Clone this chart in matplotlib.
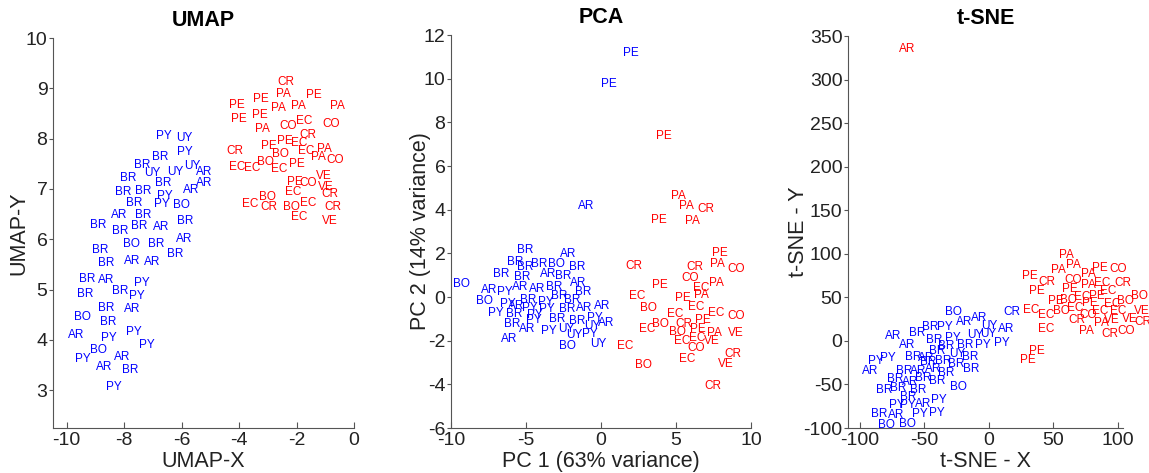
import matplotlib
matplotlib.use("Agg")
import matplotlib.pyplot as plt

plt.rcParams['font.family'] = ['Liberation Sans', 'DejaVu Sans']
plt.rcParams['axes.unicode_minus'] = False

# ---------------- UMAP ----------------
umap_blue_lab = ['PY', 'UY', 'PY', 'BR', 'BR', 'UY', 'UY', 'UY', 'AR', 'BR', 'BR', 'AR', 'AR',
                 'BR', 'BR', 'PY', 'PY', 'BO', 'BR', 'AR', 'BR', 'BR', 'BR', 'BR', 'AR', 'BR',
                 'BO', 'BR', 'AR', 'BR', 'BR', 'BR', 'AR', 'AR', 'BR', 'AR', 'PY', 'BR', 'BR',
                 'PY', 'BR', 'AR', 'BO', 'BR', 'AR', 'PY', 'PY', 'PY', 'BO', 'PY', 'AR', 'AR',
                 'BR', 'PY']
umap_blue_x = [-6.61, -5.90, -5.87, -6.73, -7.37, -7.03, -6.21, -5.63, -5.20, -7.84, -6.64, -5.20, -5.65,
               -8.04, -7.34, -6.57, -6.67, -6.00, -7.64, -8.18, -7.33, -8.89, -8.12, -7.47, -6.71, -5.86,
               -7.73, -6.89, -5.90, -8.82, -6.23, -8.63, -7.70, -7.02, -9.27, -8.61, -7.39, -9.36, -8.12,
               -7.54, -8.61, -7.70, -9.44, -8.56, -9.68, -8.53, -7.64, -7.20, -8.90, -9.42, -8.07, -8.68,
               -7.80, -8.36]
umap_blue_y = [8.06, 8.02, 7.74, 7.64, 7.47, 7.31, 7.34, 7.46, 7.34, 7.21, 7.11, 7.11, 6.97,
               6.93, 6.95, 6.86, 6.70, 6.69, 6.72, 6.48, 6.48, 6.29, 6.17, 6.26, 6.24, 6.36,
               5.91, 5.91, 6.00, 5.79, 5.70, 5.53, 5.57, 5.54, 5.22, 5.19, 5.14, 4.92, 4.98,
               4.87, 4.63, 4.62, 4.46, 4.35, 4.09, 4.03, 4.15, 3.89, 3.80, 3.62, 3.66, 3.46,
               3.41, 3.07]

umap_red_lab = ['CR', 'PA', 'PE', 'PE', 'PE', 'PA', 'PA', 'PA', 'PE', 'PE', 'CO', 'EC', 'CO', 'PA',
                'CR', 'CR', 'PE', 'PE', 'EC', 'BO', 'EC', 'PA', 'PA', 'CO', 'EC', 'EC', 'BO', 'EC',
                'PE', 'VE', 'PE', 'CO', 'VE', 'EC', 'CR', 'BO', 'EC', 'CR', 'BO', 'EC', 'CR', 'EC', 'VE']
umap_red_x = [-2.37, -2.46, -1.39, -4.08, -3.25, -2.62, -1.95, -0.59, -4.01, -3.27, -2.30, -1.74, -0.81, -3.18,
              -1.59, -4.16, -2.97, -2.42, -1.90, -2.55, -1.65, -1.04, -1.24, -0.67, -4.08, -3.55, -3.07, -2.60,
              -1.97, -1.04, -2.06, -1.59, -0.97, -2.13, -0.83, -3.02, -3.60, -2.97, -2.18, -1.59, -0.72, -1.90, -0.84]
umap_red_y = [9.13, 8.89, 8.87, 8.67, 8.79, 8.61, 8.65, 8.65, 8.39, 8.47, 8.25, 8.35, 8.30, 8.19,
              8.08, 7.76, 7.86, 7.95, 7.91, 7.70, 7.76, 7.80, 7.63, 7.58, 7.43, 7.41, 7.54, 7.39,
              7.50, 7.26, 7.14, 7.11, 7.03, 6.93, 6.90, 6.85, 6.70, 6.64, 6.64, 6.72, 6.64, 6.44, 6.37]

# ---------------- PCA ----------------
pca_blue_lab = ['PE', 'PE', 'AR', 'BR', 'AR', 'BR', 'BR', 'BR', 'BO', 'BR', 'BR', 'BR', 'AR', 'BR',
                'AR', 'BO', 'AR', 'PY', 'AR', 'AR', 'BR', 'BR', 'BO', 'PY', 'BR', 'PY', 'BR', 'BR',
                'AR', 'PY', 'PY', 'BR', 'AR', 'AR', 'PY', 'BR', 'PY', 'BR', 'BR', 'PY', 'AR', 'BR',
                'PY', 'AR', 'PY', 'UY', 'UY', 'UY', 'PY', 'AR', 'BO', 'UY']
pca_blue_x = [1.99, 0.52, -0.99, -5.05, -2.16, -5.72, -5.03, -4.14, -2.94, -1.61, -6.67, -5.27, -3.50, -2.54,
              -1.50, -9.33, -7.43, -6.38, -5.38, -4.27, -3.12, -1.17, -7.78, -6.23, -4.83, -3.67, -2.76, -1.94,
              -5.65, -4.72, -3.61, -2.28, -1.12, 0.06, -6.98, -5.76, -4.38, -2.90, -1.61, -0.39, 0.32, -5.89,
              -4.49, -4.89, -3.50, -2.28, -0.61, -1.79, -0.72, -6.12, -2.23, -0.21]
pca_blue_y = [11.18, 9.77, 4.17, 2.17, 1.95, 1.60, 1.37, 1.50, 1.53, 1.37, 1.07, 0.92, 1.07, 0.98,
              0.64, 0.58, 0.34, 0.23, 0.46, 0.37, 0.46, 0.24, -0.20, -0.31, -0.15, -0.23, 0.03, -0.12,
              -0.43, -0.49, -0.55, -0.55, -0.52, -0.43, -0.73, -0.76, -0.82, -0.99, -1.10, -0.95, -1.19, -1.25,
              -1.07, -1.47, -1.56, -1.45, -1.34, -1.76, -1.68, -1.94, -2.24, -2.15]

pca_red_lab = ['PE', 'PA', 'PA', 'CR', 'PE', 'PA', 'PE', 'PA', 'CO', 'CR', 'CR', 'CO', 'PA', 'PE',
               'EC', 'PA', 'EC', 'PE', 'BO', 'EC', 'EC', 'EC', 'CO', 'PE', 'EC', 'BO', 'CR', 'PE',
               'BO', 'PA', 'VE', 'EC', 'EC', 'VE', 'CO', 'EC', 'EC', 'CR', 'VE', 'BO', 'CR']
pca_red_x = [4.21, 5.16, 5.67, 7.00, 3.85, 6.07, 7.94, 7.76, 9.00, 2.16, 6.27, 5.94, 7.71, 3.94,
             6.65, 6.72, 2.39, 5.45, 3.19, 6.34, 4.94, 7.67, 9.00, 6.78, 3.05, 3.98, 5.54, 6.49,
             5.09, 7.54, 8.96, 5.38, 6.38, 7.40, 6.34, 1.63, 5.72, 8.82, 8.29, 2.83, 7.49]
pca_red_y = [7.39, 4.61, 4.15, 4.05, 3.54, 3.48, 2.02, 1.51, 1.28, 1.44, 1.36, 0.87, 0.64, 0.53,
             0.43, 0.09, 0.06, -0.05, -0.49, -0.46, -0.79, -0.73, -0.85, -1.07, -1.45, -1.22, -1.25, -1.45,
             -1.60, -1.63, -1.63, -2.02, -1.86, -2.02, -2.35, -2.24, -2.84, -2.63, -3.05, -3.13, -4.08]

# ---------------- t-SNE ----------------
tsne_blue_lab = ['BO', 'AR', 'AR', 'UY', 'AR', 'UY', 'UY', 'PY', 'BR', 'PY', 'CR', 'AR', 'BR', 'BR',
                 'PY', 'AR', 'BR', 'BR', 'PY', 'BR', 'UY', 'BR', 'PY', 'PY', 'AR', 'BR', 'AR', 'BR',
                 'BR', 'BR', 'BR', 'BR', 'AR', 'AR', 'BR', 'BR', 'AR', 'BR', 'BR', 'BR', 'BR', 'BR',
                 'BO', 'BR', 'PY', 'PY', 'AR', 'PY', 'BR', 'AR', 'PY', 'PY', 'BO', 'BO']
tsne_blue_x = [-27.7, -19.4, -7.5, 0.2, 13.7, -10.9, -0.5, 9.8, -18.6, -4.4, 17.6, -74.2, -55.6, -45.2,
               -34.1, -63.3, -42.6, -32.8, -27.7, -40.5, -24.8, -14.3, -87.6, -78.1, -92.2, -58.7, -48.3, -47.0,
               -35.4, -25.3, -14.0, -65.9, -54.8, -43.2, -32.8, -72.9, -61.2, -50.9, -40.5, -81.4, -70.3, -54.8,
               -23.8, -62.6, -71.6, -62.6, -50.9, -38.5, -85.3, -72.1, -53.5, -40.1, -79.3, -63.3]
tsne_blue_y = [33.7, 22.2, 26.0, 17.6, 13.4, 6.9, 7.7, -2.6, -4.6, -4.6, 33.7, 6.1, 8.8, 15.7,
               15.7, -4.6, 1.1, -5.7, 3.1, -11.1, -15.5, -18.4, -22.6, -19.9, -34.1, -18.7, -19.9, -23.7,
               -23.0, -26.0, -32.1, -34.1, -34.1, -32.5, -36.4, -44.0, -46.7, -42.8, -45.6, -56.3, -54.3, -56.3,
               -52.5, -64.7, -73.5, -73.5, -72.3, -67.7, -83.8, -85.0, -83.8, -82.3, -96.4, -95.3]

tsne_red_lab = ['AR', 'PA', 'PA', 'PA', 'PE', 'CO', 'PE', 'CR', 'CO', 'PA', 'PA', 'EC', 'CR', 'PE',
                'PE', 'EC', 'PE', 'EC', 'PE', 'BO', 'BO', 'BO', 'EC', 'EC', 'BO', 'EC', 'PE', 'EC',
                'EC', 'EC', 'CR', 'CO', 'PA', 'VE', 'VE', 'VE', 'CR', 'PA', 'CR', 'CO', 'EC', 'PE', 'PE']
tsne_red_x = [-63.6, 60.2, 65.9, 53.7, 86.0, 100.3, 31.8, 45.2, 65.3, 77.0, 77.0, 88.1, 103.6, 37.4,
              62.8, 72.3, 83.5, 92.5, 51.9, 61.5, 106.0, 117.0, 32.6, 44.7, 56.4, 66.7, 78.3, 95.9,
              86.0, 100.3, 68.0, 77.0, 87.3, 95.1, 109.3, 118.4, 119.1, 75.7, 93.8, 106.2, 44.7, 37.0, 30.5]
tsne_red_y = [335.0, 98.7, 87.3, 81.5, 83.5, 82.3, 74.6, 68.1, 70.0, 76.6, 64.3, 66.9, 66.9, 57.7,
              59.4, 50.9, 51.7, 57.7, 45.9, 47.1, 45.9, 51.7, 35.6, 29.9, 34.4, 37.5, 43.3, 42.5,
              34.8, 34.8, 24.1, 29.9, 20.3, 24.1, 25.3, 34.8, 22.2, 11.8, 8.0, 11.5, 13.4, -11.5, -21.8]

W, H = 1149, 473
fig = plt.figure(figsize=(W / 100, H / 100), dpi=100)


def panel(rect_px, title, xlabel, ylabel, xlim, ylim, xticks, yticks, groups, ypad):
    l, t, r, b = rect_px
    ax = fig.add_axes([l / W, (H - b) / H, (r - l) / W, (b - t) / H])
    for lab, xs, ys, col in groups:
        for s, x, y in zip(lab, xs, ys):
            ax.text(x, y, s, color=col, fontsize=8.5, ha='center', va='center')
    ax.set_xlim(xlim)
    ax.set_ylim(ylim)
    ax.set_xticks(xticks)
    ax.set_yticks(yticks)
    for side in ('top', 'right'):
        ax.spines[side].set_visible(False)
    for side in ('left', 'bottom'):
        ax.spines[side].set_color('#555555')
    ax.tick_params(axis='x', direction='in', length=4, color='#555555', labelsize=14,
                   labelcolor='#222222', pad=3)
    ax.tick_params(axis='y', direction='out', length=3, color='#555555', labelsize=14,
                   labelcolor='#222222', pad=1)
    ax.set_title(title, fontsize=15.5, fontweight='bold', pad=9)
    ax.set_xlabel(xlabel, fontsize=15.5, labelpad=1, color='#222222')
    ax.set_ylabel(ylabel, fontsize=15.5, labelpad=ypad, color='#222222')
    return ax


blue, red = '#0000ff', '#ff0000'

panel((53, 38, 354, 428), 'UMAP', 'UMAP-X', 'UMAP-Y',
      (-10.47, 0), (2.25, 10), [-10, -8, -6, -4, -2, 0], list(range(3, 11)),
      [(umap_blue_lab, umap_blue_x, umap_blue_y, blue),
       (umap_red_lab, umap_red_x, umap_red_y, red)], -3)

panel((451, 35, 751, 428), 'PCA', 'PC 1 (63% variance)', 'PC 2 (14% variance)',
      (-10, 10), (-6, 12), [-10, -5, 0, 5, 10], list(range(-6, 13, 2)),
      [(pca_blue_lab, pca_blue_x, pca_blue_y, blue),
       (pca_red_lab, pca_red_x, pca_red_y, red)], -5)

panel((848, 36, 1123, 428), 't-SNE', 't-SNE - X', 't-SNE - Y',
      (-109.3, 104), (-100, 350), [-100, -50, 0, 50, 100], list(range(-100, 351, 50)),
      [(tsne_blue_lab, tsne_blue_x, tsne_blue_y, blue),
       (tsne_red_lab, tsne_red_x, tsne_red_y, red)], -4)

fig.savefig('out.png', dpi=100)
